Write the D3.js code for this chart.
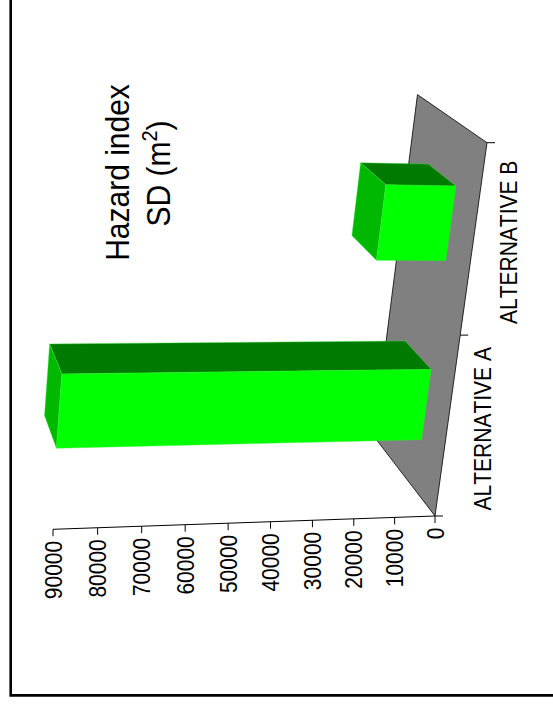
<!DOCTYPE html>
<html>
<head>
<meta charset="utf-8">
<style>
html, body { margin: 0; padding: 0; background: #fff; }
svg { display: block; }
text { font-family: "Liberation Sans", Arial, sans-serif; fill: #000; font-kerning: none; }
</style>
<script src="https://cdn.jsdelivr.net/npm/d3@7"></script>
</head>
<body>
<svg id="chart" width="553" height="706"></svg>
<script>
const categories = ["ALTERNATIVE A", "ALTERNATIVE B"];
const hazardValues = [88000, 17000];
const valueTicks = [0, 10000, 20000, 30000, 40000, 50000, 60000, 70000, 80000, 90000];

const svg = d3.select("#chart");

// The scene is a unit box: u along the categories, v into the depth, w up the value axis.
const uScale = d3.scaleBand().domain(categories).range([0, 0.99]).paddingInner(0.6).paddingOuter(0.29);
const wScale = d3.scaleLinear().domain([0, 90000]).range([0, 1]);
const depthRange = [0.31, 0.72];

// Projective camera defined by the images of the box origin and its three axis ends.
const origin = [435, 516];
const axisEnds = { u: [487, 142.7], v: [374, 436.6], w: [53, 529.3] };
const weights = { u: 0.94, v: 1.1, w: 0.945 };

function project(u, v, w) {
  const o = 1 - u - v - w;
  const a = u * weights.u, b = v * weights.v, c = w * weights.w;
  const h = a + b + c + o;
  return [
    (a * axisEnds.u[0] + b * axisEnds.v[0] + c * axisEnds.w[0] + o * origin[0]) / h,
    (a * axisEnds.u[1] + b * axisEnds.v[1] + c * axisEnds.w[1] + o * origin[1]) / h
  ];
}

const polygon = pts => "M" + pts.map(p => p.join(",")).join("L") + "Z";

// Page frame
svg.append("path")
  .attr("d", "M10.7,0V695.4H553")
  .attr("fill", "none").attr("stroke", "#000").attr("stroke-width", 2.6);

// Floor
svg.append("path")
  .attr("d", polygon([project(0, 0, 0), project(1, 0, 0), project(1, 1, 0), project(0, 1, 0)]))
  .attr("fill", "#808080").attr("stroke", "#000").attr("stroke-width", 0.8);

// Value axis along the vertical edge of the box
const valueAxis = svg.append("g");
valueAxis.append("line")
  .datum([project(0, 0, 0), project(0, 0, 1)])
  .attr("x1", d => d[0][0]).attr("y1", d => d[0][1])
  .attr("x2", d => d[1][0]).attr("y2", d => d[1][1])
  .attr("stroke", "#000");
const valueTick = valueAxis.selectAll("g").data(valueTicks).join("g")
  .attr("transform", d => {
    const p = project(0, 0, wScale(d));
    return `translate(${p[0]},${p[1]})`;
  });
valueTick.append("line").attr("y2", 7).attr("stroke", "#000");
valueTick.append("text")
  .attr("transform", "translate(8.5,11.5) rotate(-90) scale(1,1.12)")
  .attr("text-anchor", "end")
  .attr("font-size", 21)
  .text(d => d);

// Category ticks along the front edge of the floor
const categoryTicks = [0, 0.5, 1];
svg.append("g").selectAll("line").data(categoryTicks).join("line")
  .attr("x1", d => project(d, 0, 0)[0]).attr("y1", d => project(d, 0, 0)[1])
  .attr("x2", d => project(d, 0, 0)[0] + 8).attr("y2", d => project(d, 0, 0)[1])
  .attr("stroke", "#000");

svg.append("g").selectAll("text").data(categories).join("text")
  .attr("transform", d => {
    const p = project(uScale(d) + uScale.bandwidth() / 2, 0, 0);
    return `translate(${p[0] + 43.5},${p[1]}) rotate(-90) scale(1,1.12)`;
  })
  .attr("text-anchor", "middle")
  .attr("font-size", 21)
  .text(d => d);

// Bars, far one first
const bars = categories.map((c, i) => ({ u0: uScale(c), u1: uScale(c) + uScale.bandwidth(), w: wScale(hazardValues[i]) }));
const [v0, v1] = depthRange;
const barGroups = svg.append("g").selectAll("g").data(bars.slice().reverse()).join("g");
const faces = [
  { fill: "#007a00", pts: b => [[b.u1, v0, 0], [b.u1, v1, 0], [b.u1, v1, b.w], [b.u1, v0, b.w]] },
  { fill: "#00b800", pts: b => [[b.u0, v0, b.w], [b.u1, v0, b.w], [b.u1, v1, b.w], [b.u0, v1, b.w]] },
  { fill: "#00ff00", pts: b => [[b.u0, v0, 0], [b.u1, v0, 0], [b.u1, v0, b.w], [b.u0, v0, b.w]] }
];
barGroups.selectAll("path").data(b => faces.map(f => ({ f, b }))).join("path")
  .attr("d", d => polygon(d.f.pts(d.b).map(p => project(p[0], p[1], p[2]))))
  .attr("fill", d => d.f.fill)
  .attr("stroke", "#33e633").attr("stroke-width", 0.4);

// Title block
const title = svg.append("g").attr("text-anchor", "middle");
title.append("text")
  .attr("transform", "translate(129,172.5) rotate(-90) scale(1,1.08)")
  .attr("font-size", 30)
  .text("Hazard index");
const sub = title.append("text")
  .attr("transform", "translate(170,173.5) rotate(-90) scale(1,1.08)")
  .attr("font-size", 30);
sub.append("tspan").text("SD (m");
sub.append("tspan").attr("font-size", 20).attr("dy", -12).text("2");
sub.append("tspan").attr("dy", 12).text(")");
</script>
</body>
</html>
